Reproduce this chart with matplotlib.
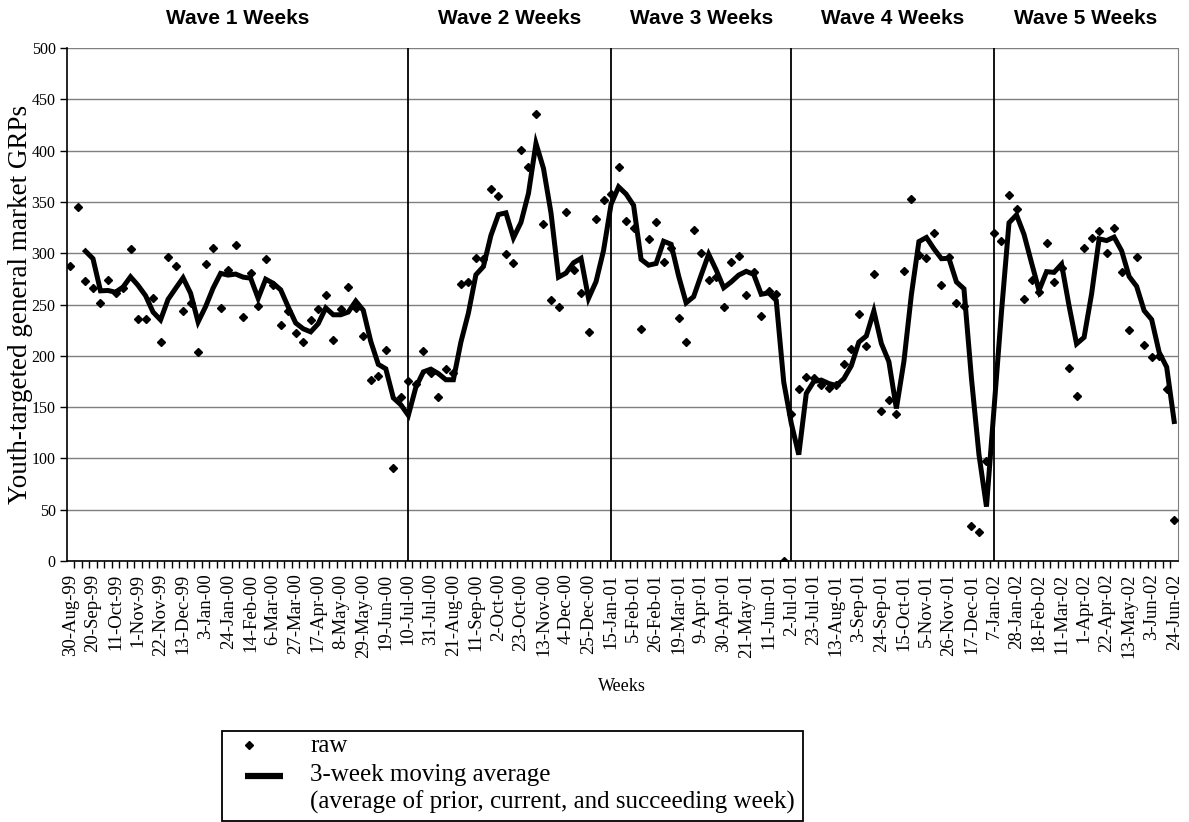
import numpy as np
import pandas as pd
import matplotlib
matplotlib.use("Agg")
import matplotlib.pyplot as plt
from matplotlib.lines import Line2D
from matplotlib.patches import Rectangle
from matplotlib.transforms import blended_transform_factory

plt.rcParams['font.family'] = ['Liberation Serif', 'DejaVu Serif']

# weekly GRP values (30-Aug-99 .. 24-Jun-02)
raw = [
    288, 345, 273, 266, 251, 274, 261, 266, 304, 236,
    236, 256, 213, 296, 288, 244, 251, 204, 289, 305,
    247, 284, 308, 238, 281, 249, 294, 269, 230, 244,
    222, 213, 235, 246, 259, 215, 246, 267, 247, 219,
    176, 180, 206, 91, 160, 175, 173, 205, 183, 160,
    187, 183, 270, 272, 295, 294, 363, 356, 299, 290,
    401, 384, 436, 328, 254, 248, 340, 284, 261, 223,
    333, 352, 358, 384, 331, 325, 226, 314, 330, 291,
    305, 237, 213, 323, 300, 274, 277, 248, 291, 297,
    259, 282, 239, 263, 260, 0, 143, 168, 179, 178,
    172, 169, 172, 192, 207, 241, 210, 280, 146, 157,
    143, 283, 353, 298, 295, 320, 269, 296, 251, 249,
    34, 28, 97, 320, 312, 357, 343, 255, 274, 262,
    310, 272, 286, 188, 161, 305, 315, 322, 300, 325,
    282, 225, 296, 211, 199, 200, 168, 40,
]
first_week = '1999-08-30'
last_week = '2002-06-24'
wave_starts = ['2000-07-10', '2001-01-15', '2001-07-02', '2002-01-07']
wave_names = ['Wave 1 Weeks', 'Wave 2 Weeks', 'Wave 3 Weeks', 'Wave 4 Weeks', 'Wave 5 Weeks']
legend_labels = ['raw', '3-week moving average', '(average of prior, current, and succeeding week)']

weeks = pd.date_range(first_week, last_week, freq='7D')
x = np.arange(len(weeks))
# Excel-style moving average trendline (trailing window of 3)
ma = pd.Series(raw, dtype=float).rolling(3).mean()
week_labels = [f"{d.day}-{d.strftime('%b-%y')}" for d in weeks]
dividers = [weeks.get_loc(pd.Timestamp(d)) for d in wave_starts]

W, H = 1189, 822
fig = plt.figure(figsize=(W / 100, H / 100), dpi=100)
ax = fig.add_axes([0.0561, 0.3175, 0.9346, 0.6241])

ax.plot(x, raw, linestyle='none', marker='D', markersize=4.2, color='black', zorder=3)
ax.plot(x, ma, color='black', linewidth=3.6, solid_joinstyle='miter', zorder=4)
for d in dividers:
    ax.axvline(d, color='black', linewidth=1.3, zorder=2)

ax.set_xlim(-0.5, len(weeks) - 0.5)
ax.set_ylim(0, 500)
ax.set_yticks(np.arange(0, 501, 50))
ax.yaxis.grid(True, color='#7f7f7f', linewidth=1.0)
ax.set_axisbelow(True)

ax.set_xticks(x[::3])
ax.set_xticklabels(week_labels[::3], rotation=90, fontsize=13.5)
ax.set_xticks(x[:-1] + 0.5, minor=True)
ax.tick_params(axis='x', which='major', length=0, pad=9)
ax.tick_params(axis='x', which='minor', length=5, width=1, direction='out')
ax.tick_params(axis='y', length=5, width=1, direction='out', labelsize=11.5, pad=3)

ax.spines['top'].set_visible(False)
ax.spines['right'].set_color('#808080')
ax.spines['left'].set_linewidth(1.2)
ax.spines['bottom'].set_linewidth(1.2)

# wave headings centred over each segment
bounds = [-0.5] + dividers + [len(weeks) - 0.5]
trans = blended_transform_factory(ax.transData, fig.transFigure)
for name, a, b in zip(wave_names, bounds[:-1], bounds[1:]):
    ax.text((a + b) / 2, 1 - 19 / H, name, transform=trans, ha='center', va='center',
            fontsize=15, fontweight='bold', family=['Liberation Sans', 'DejaVu Sans'])

fig.text(21 / W, 0.6296, 'Youth-targeted general market GRPs', rotation=90,
         ha='center', va='center', fontsize=19.5)
fig.text(622 / W, 1 - 686 / H, 'Weeks', ha='center', va='center', fontsize=13)

# legend box drawn in figure pixels
fig.add_artist(Rectangle((222 / W, 1 - 821 / H), 581 / W, 90 / H, transform=fig.transFigure,
                         facecolor='white', edgecolor='black', linewidth=1.3))
fig.add_artist(Line2D([249 / W], [1 - 745 / H], transform=fig.transFigure, linestyle='none',
                      marker='D', markersize=4.2, color='black'))
fig.add_artist(Line2D([245 / W, 283 / W], [1 - 776 / H, 1 - 776 / H], transform=fig.transFigure,
                      color='black', linewidth=4.5, solid_capstyle='butt'))
for label, base in zip(legend_labels, [752, 781, 809]):
    fig.text(310 / W, 1 - base / H, label, ha='left', va='baseline', fontsize=18)

fig.savefig('out.png', dpi=100)
